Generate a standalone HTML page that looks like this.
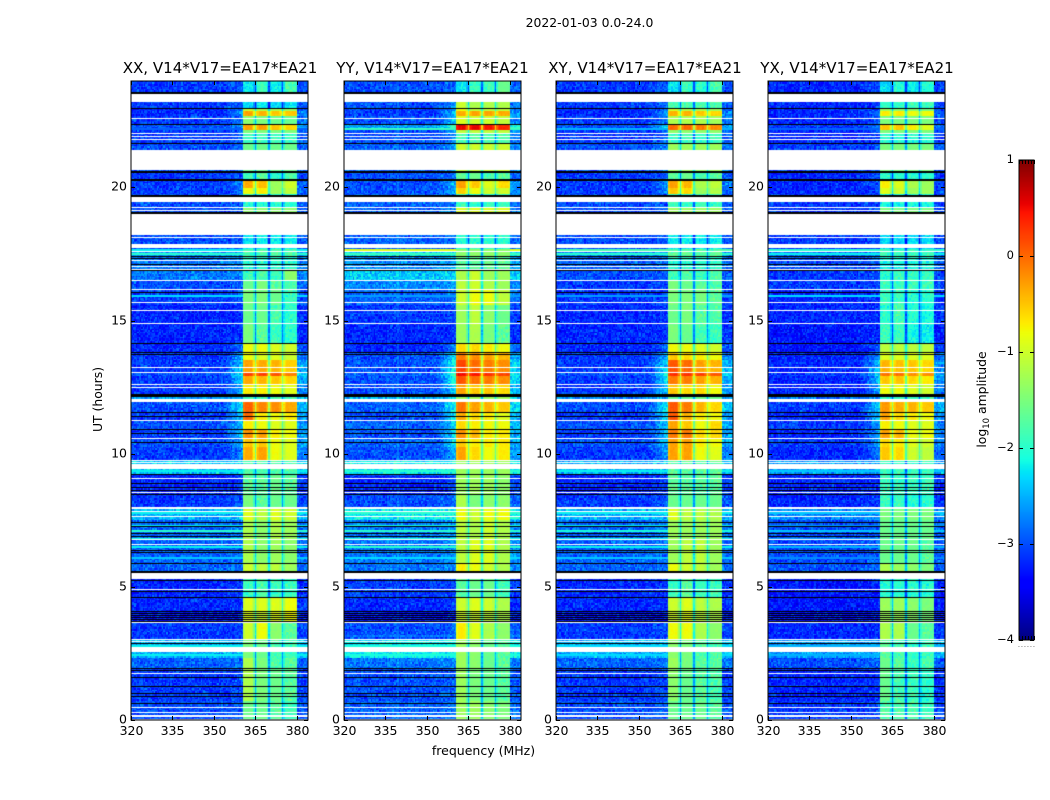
<!DOCTYPE html>
<html lang="en">
<head>
<meta charset="utf-8">
<title>2022-01-03 0.0-24.0</title>
<style>
html,body{margin:0;padding:0;background:#fff;}
#figure{position:relative;width:1050px;height:800px;overflow:hidden;background:#fff;font-family:"DejaVu Sans","Liberation Sans",sans-serif;}
canvas{position:absolute;display:block;}
#overlay{position:absolute;left:0;top:0;}
text{font-family:"DejaVu Sans","Liberation Sans",sans-serif;fill:#000;}
</style>
</head>
<body>
<div id="figure">
<canvas id="heat-xx"></canvas>
<canvas id="heat-yy"></canvas>
<canvas id="heat-xy"></canvas>
<canvas id="heat-yx"></canvas>
<canvas id="cbar"></canvas>
<svg id="overlay" width="1050" height="800" viewBox="0 0 1050 800">
<text x="589.5" y="27" text-anchor="middle" font-size="12.4">2022-01-03 0.0-24.0</text>
<text x="220" y="73" text-anchor="middle" font-size="15.05">XX, V14*V17=EA17*EA21</text>
<text x="432.5" y="73" text-anchor="middle" font-size="15.05">YY, V14*V17=EA17*EA21</text>
<text x="645" y="73" text-anchor="middle" font-size="15.05">XY, V14*V17=EA17*EA21</text>
<text x="857" y="73" text-anchor="middle" font-size="15.05">YX, V14*V17=EA17*EA21</text>
<text x="483.5" y="755" text-anchor="middle" font-size="12.5">frequency (MHz)</text>
<text transform="translate(102,399.5) rotate(-90)" text-anchor="middle" font-size="12.4">UT (hours)</text>
<text transform="translate(986,399.5) rotate(-90)" text-anchor="middle" font-size="12.4">log<tspan dy="3" font-size="8.5">10</tspan><tspan dy="-3"> amplitude</tspan></text>
</svg>
</div>
<script>
// ---- axis tick values ----
const freqTicks = [320, 335, 350, 365, 380];
const hourTicks = [0, 5, 10, 15, 20];
const colorTicks = [1, 0, -1, -2, -3, -4];
const colorbarXTicks = [0, 0.2, 0.4, 0.6, 0.8, 1];

// ---- top hour of each time segment ----
const segmentTopHours = [
24.0,23.21,22.98,22.87,22.68,22.38,22.16,22.04,21.67,20.58,
20.28,19.98,19.71,19.26,18.21,17.72,17.42,16.86,16.52,16.18,
15.58,14.83,14.16,13.82,13.52,13.07,12.92,12.62,12.24,11.94,
11.57,11.27,10.93,10.59,10.25,9.76,9.24,8.49,7.92,7.51,
6.76,5.90,5.56,4.62,4.09,3.68,3.00,2.37,1.95,0.75];

// ---- log10 amplitude of the four sub-bands per time segment ----
const bandXX = [
[-2.2,-1.9,-2.2,-1.8],[-2.3,-2.2,-2.3,-2.3],[-1.0,-1.2,-1.2,-1.3],[-0.3,-0.4,-0.5,-0.5],[-1.4,-1.5,-1.6,-1.6],
[-0.3,-0.3,-0.5,-0.6],[-1.5,-1.5,-1.5,-1.5],[-1.9,-1.9,-1.9,-1.9],[-1.6,-1.6,-1.6,-1.6],[-1.9,-1.7,-2.0,-1.8],
[-0.35,-0.45,-1.3,-1.0],[-0.8,-0.7,-1.3,-1.1],[-2.0,-2.0,-2.0,-2.0],[-1.4,-1.4,-1.4,-1.4],[-2.2,-2.2,-2.2,-2.2],
[-1.8,-1.8,-1.8,-1.8],[-2.0,-2.0,-2.0,-2.0],[-1.9,-1.8,-1.9,-1.4],[-1.6,-1.5,-1.7,-1.8],[-1.5,-1.5,-1.6,-1.9],
[-1.6,-1.6,-1.8,-2.0],[-1.5,-1.7,-1.9,-2.0],[-0.8,-0.8,-0.9,-1.0],[-0.8,-0.9,-0.9,-1.0],[-0.3,-0.35,-0.4,-0.55],
[0.2,0.2,0.1,-0.1],[-0.35,-0.4,-0.5,-0.6],[-0.7,-0.7,-0.8,-0.9],[-1.8,-1.8,-1.8,-1.8],[0.05,-0.15,-0.2,-0.35],
[0,-0.7,-0.8,-0.7],[-0.7,-0.8,-0.9,-0.9],[-0.2,-0.3,-0.7,-0.8],[-0.5,-0.5,-0.8,-0.9],[-0.35,-0.3,-0.8,-0.9],
[-1.8,-1.8,-1.8,-1.8],[-1.7,-1.7,-1.6,-1.7],[-1.5,-1.7,-1.6,-1.6],[-0.9,-1.1,-0.9,-1.0],[-1.2,-1.4,-1.2,-1.3],
[-1.2,-1.4,-1.3,-1.4],[-1.0,-1.1,-1.1,-1.3],[-1.9,-1.8,-1.9,-1.9],[-0.9,-0.9,-0.9,-0.8],[-0.9,-1.0,-0.9,-0.8],
[-1.0,-0.8,-1.4,-1.7],[-1.5,-1.6,-1.8,-1.9],[-1.2,-1.5,-1.8,-1.7],[-1.2,-1.5,-1.6,-1.7],[-1.6,-1.6,-1.7,-1.9]];
const bandYY = [
[-2.2,-1.9,-1.9,-1.6],[-1.0,-1.2,-1.2,-1.2],[-0.8,-1.1,-1.1,-1.1],[-0.35,-0.3,-0.3,-0.35],[-0.9,-1.0,-1.0,-1.1],
[0.55,0.55,0.45,0.35],[-1.1,-1.1,-1.1,-1.1],[-1.8,-1.8,-1.8,-1.8],[-1.0,-1.0,-1.0,-1.0],[-1.7,-1.6,-1.8,-1.7],
[-0.3,-0.5,-0.9,-0.6],[-0.55,-0.8,-1.0,-1.0],[-1.9,-1.9,-1.9,-1.9],[-0.9,-0.9,-0.9,-0.9],[-2.0,-2.0,-2.0,-2.0],
[-1.4,-1.4,-1.4,-1.4],[-1.7,-1.7,-1.7,-1.7],[-1.2,-1.0,-1.3,-1.3],[-1.1,-1.0,-1.2,-1.3],[-1.0,-0.8,-0.8,-1.1],
[-1.3,-1.1,-1.4,-1.6],[-1.3,-1.2,-1.5,-1.7],[-0.6,-0.6,-0.7,-0.8],[-0.1,-0.2,-0.3,-0.4],[0.2,0.0,-0.1,-0.2],
[0.5,0.45,0.3,0.2],[0.1,-0.05,-0.1,-0.2],[-0.3,-0.5,-0.5,-0.6],[-1.3,-1.3,-1.3,-1.3],[-0.05,-0.3,-0.4,-0.5],
[-0.35,-0.6,-0.7,-0.9],[-0.6,-0.7,-0.8,-0.8],[-0.2,-0.4,-0.7,-0.7],[-0.5,-0.7,-0.7,-0.7],[-0.3,-0.6,-0.8,-0.7],
[-1.3,-1.3,-1.3,-1.3],[-1.3,-1.3,-1.3,-1.4],[-1.2,-1.5,-1.4,-1.4],[-0.8,-1.0,-0.8,-0.8],[-1.1,-1.2,-1.0,-1.2],
[-1.1,-0.9,-0.9,-1.2],[-0.7,-0.8,-1.0,-1.2],[-1.7,-1.6,-1.6,-1.9],[-1.0,-0.9,-1.0,-1.2],[-1.0,-1.0,-1.1,-1.2],
[-0.7,-0.9,-1.2,-1.4],[-1.3,-1.4,-1.6,-1.7],[-1.3,-1.4,-1.6,-1.7],[-1.3,-1.5,-1.6,-1.7],[-1.3,-1.3,-1.4,-1.5]];
const bandXY = [
[-2.2,-1.9,-2.0,-1.8],[-1.8,-1.8,-1.8,-1.8],[-1.0,-1.2,-1.2,-1.3],[-0.4,-0.4,-0.5,-0.6],[-1.2,-1.2,-1.2,-1.3],
[0.0,0.0,-0.1,-0.2],[-1.4,-1.4,-1.4,-1.4],[-1.9,-1.9,-1.9,-1.9],[-1.3,-1.3,-1.3,-1.3],[-1.7,-1.6,-1.8,-1.7],
[-0.3,-0.4,-1.2,-1.1],[-0.5,-0.6,-1.3,-1.2],[-1.9,-1.9,-1.9,-1.9],[-1.3,-1.3,-1.3,-1.3],[-2.2,-2.2,-2.2,-2.2],
[-1.7,-1.7,-1.7,-1.7],[-2.0,-2.0,-2.0,-2.0],[-1.9,-1.8,-1.9,-1.8],[-1.5,-1.6,-1.7,-1.8],[-1.5,-1.5,-1.5,-1.7],
[-1.6,-1.5,-1.7,-1.8],[-1.5,-1.6,-1.8,-1.9],[-0.8,-0.8,-0.9,-1.0],[-0.5,-0.6,-0.7,-0.8],[0.1,0.0,-0.3,-0.4],
[0.3,0.3,0.2,0.1],[-0.1,-0.1,-0.3,-0.4],[-0.5,-0.6,-0.6,-0.8],[-1.6,-1.6,-1.6,-1.6],[0.1,-0.1,-0.4,-0.6],
[0.1,-0.4,-0.7,-0.8],[-0.3,-0.5,-0.8,-0.6],[-0.1,-0.1,-0.6,-0.6],[-0.3,-0.3,-0.7,-0.8],[-0.3,-0.3,-0.8,-0.9],
[-1.7,-1.7,-1.7,-1.7],[-1.7,-1.7,-1.7,-1.7],[-1.6,-1.6,-1.6,-1.6],[-0.9,-1.1,-1.1,-1.2],[-1.3,-1.3,-1.3,-1.3],
[-1.3,-1.1,-1.1,-1.3],[-0.8,-1.0,-1.1,-1.3],[-1.9,-1.7,-1.9,-1.9],[-1.0,-0.9,-1.1,-1.2],[-1.0,-0.9,-1.1,-1.2],
[-0.8,-0.8,-1.2,-1.4],[-1.4,-1.5,-1.7,-1.8],[-1.3,-1.5,-1.7,-1.7],[-1.4,-1.6,-1.7,-1.8],[-1.6,-1.6,-1.6,-1.7]];
const bandYX = [
[-2.3,-2.0,-2.2,-2.0],[-1.9,-1.9,-1.9,-1.9],[-1.3,-1.4,-1.4,-1.5],[-0.7,-0.7,-0.8,-0.8],[-1.5,-1.5,-1.5,-1.5],
[-0.5,-0.5,-0.7,-0.9],[-1.5,-1.5,-1.5,-1.5],[-2.0,-2.0,-2.0,-2.0],[-1.5,-1.5,-1.5,-1.5],[-2.0,-2.0,-2.0,-2.0],
[-0.7,-0.9,-1.2,-1.3],[-0.9,-1.0,-1.3,-1.3],[-2.1,-2.1,-2.1,-2.1],[-1.5,-1.5,-1.5,-1.5],[-2.3,-2.3,-2.3,-2.3],
[-1.9,-1.9,-1.9,-1.9],[-2.1,-2.1,-2.1,-2.1],[-2.0,-1.9,-1.9,-1.9],[-1.9,-1.9,-1.9,-1.9],[-1.9,-1.9,-2.0,-2.0],
[-2.0,-1.8,-2.0,-2.1],[-1.9,-1.9,-2.1,-2.2],[-1.1,-1.1,-1.1,-1.1],[-0.9,-0.9,-0.9,-0.9],[-0.4,-0.45,-0.5,-0.6],
[-0.05,-0.05,-0.2,-0.2],[-0.5,-0.5,-0.6,-0.7],[-0.8,-0.8,-0.9,-1.0],[-1.9,-1.9,-1.9,-1.9],[-0.25,-0.35,-0.4,-0.5],
[-0.3,-0.6,-0.7,-0.8],[-0.7,-0.8,-0.9,-0.9],[-0.3,-0.4,-0.8,-0.8],[-0.6,-0.7,-0.9,-1.0],[-0.5,-0.6,-1.0,-1.1],
[-1.9,-1.9,-1.9,-1.9],[-1.9,-1.9,-1.9,-1.9],[-1.9,-1.9,-2.0,-2.0],[-1.5,-1.5,-1.5,-1.5],[-1.6,-1.6,-1.6,-1.6],
[-1.6,-1.6,-1.6,-1.7],[-1.2,-1.3,-1.4,-1.5],[-2.0,-2.0,-2.0,-2.0],[-1.3,-1.3,-1.4,-1.5],[-1.3,-1.3,-1.4,-1.5],
[-1.2,-1.2,-1.6,-1.7],[-1.7,-1.8,-1.9,-1.9],[-1.6,-1.7,-1.9,-1.8],[-1.6,-1.8,-1.9,-2.0],[-1.8,-1.8,-1.8,-1.9]];

// ---- off-band background level per time segment ----
const backgroundXX = [
-3.1,-3.1,-3.2,-3.2,-3.1,-3.0,-3.1,-3.1,-3.0,-3.1,
-3.1,-3.1,-3.0,-3.0,-3.0,-2.6,-2.8,-2.8,-3.0,-3.1,
-3.2,-3.2,-3.2,-3.1,-3.1,-3.0,-3.1,-3.1,-2.6,-3.0,
-3.1,-3.0,-3.1,-3.0,-3.1,-2.4,-3.2,-3.1,-2.5,-2.9,
-2.9,-2.9,-3.2,-3.2,-3.3,-3.1,-2.5,-2.9,-3.1,-3.0];
const backgroundYY = [
-3.0,-3.0,-3.1,-3.1,-3.0,-2.6,-3.0,-3.0,-2.9,-3.0,
-3.0,-3.0,-2.9,-2.9,-2.9,-2.3,-2.7,-2.4,-2.7,-2.9,
-3.1,-3.2,-3.2,-3.0,-3.0,-2.9,-3.0,-3.0,-2.5,-2.9,
-3.0,-2.9,-3.0,-2.9,-3.0,-2.2,-3.2,-3.0,-2.2,-2.8,
-2.8,-2.8,-3.1,-3.2,-3.3,-3.0,-2.2,-2.8,-3.0,-2.9];
const backgroundXY = [
-3.1,-3.1,-3.2,-3.2,-3.1,-3.0,-3.1,-3.1,-3.0,-3.1,
-3.1,-3.1,-3.0,-3.0,-3.0,-2.7,-2.9,-3.0,-3.1,-3.1,
-3.2,-3.2,-3.2,-3.1,-3.1,-3.0,-3.1,-3.1,-2.7,-3.0,
-3.1,-3.0,-3.1,-3.0,-3.1,-2.5,-3.2,-3.1,-2.5,-2.9,
-2.9,-2.9,-3.2,-3.2,-3.3,-3.1,-2.5,-2.9,-3.1,-3.0];
const backgroundYX = [
-3.2,-3.2,-3.2,-3.2,-3.2,-3.1,-3.2,-3.2,-3.1,-3.2,
-3.2,-3.2,-3.1,-3.1,-3.1,-2.8,-3.0,-3.1,-3.1,-3.2,
-3.2,-3.3,-3.3,-3.2,-3.2,-3.1,-3.2,-3.2,-2.8,-3.1,
-3.2,-3.1,-3.2,-3.1,-3.2,-2.6,-3.2,-3.2,-2.7,-3.0,
-3.0,-3.0,-3.3,-3.3,-3.3,-3.2,-2.6,-3.0,-3.2,-3.1];

// ---- level of the shoulder just below the band per time segment ----
const shoulderXX = [
-2.9,-2.9,-2.8,-2.5,-2.7,-2.5,-2.8,-2.8,-2.8,-2.9,
-2.7,-2.7,-2.9,-2.9,-2.9,-2.5,-2.7,-2.7,-2.9,-2.9,
-3.1,-3.1,-2.8,-2.5,-2.2,-2.0,-2.2,-2.4,-2.4,-2.1,
-2.3,-2.4,-2.3,-2.4,-2.6,-2.3,-3.0,-2.9,-2.4,-2.7,
-2.8,-2.8,-3.1,-3.1,-3.2,-3.0,-2.4,-2.8,-3.0,-2.9];
const shoulderYY = [
-2.8,-2.6,-2.5,-2.2,-2.4,-1.7,-2.5,-2.6,-2.5,-2.8,
-2.4,-2.4,-2.8,-2.7,-2.8,-2.2,-2.5,-2.3,-2.6,-2.8,
-3.0,-3.1,-2.6,-2.2,-1.9,-1.7,-1.9,-2.2,-2.3,-1.9,
-2.1,-2.2,-2.1,-2.2,-2.4,-2.1,-2.9,-2.8,-2.1,-2.6,
-2.6,-2.6,-3.0,-3.1,-3.2,-2.8,-2.1,-2.7,-2.9,-2.8];
const shoulderXY = [
-2.9,-2.8,-2.7,-2.4,-2.6,-2.2,-2.7,-2.8,-2.7,-2.9,
-2.6,-2.6,-2.9,-2.9,-2.9,-2.5,-2.8,-2.9,-3.0,-3.0,
-3.1,-3.1,-2.8,-2.4,-2.1,-1.9,-2.1,-2.3,-2.5,-2.0,
-2.2,-2.3,-2.2,-2.3,-2.5,-2.4,-3.0,-2.9,-2.4,-2.7,
-2.8,-2.8,-3.1,-3.1,-3.2,-3.0,-2.4,-2.8,-3.0,-2.9];
const shoulderYX = [
-3.0,-3.0,-2.9,-2.7,-2.9,-2.7,-2.9,-3.0,-2.9,-3.0,
-2.9,-2.9,-3.0,-3.0,-3.0,-2.7,-2.9,-3.0,-3.0,-3.1,
-3.1,-3.2,-2.9,-2.6,-2.3,-2.1,-2.3,-2.5,-2.6,-2.2,
-2.4,-2.5,-2.4,-2.5,-2.7,-2.5,-3.1,-3.1,-2.6,-2.9,
-2.9,-2.9,-3.2,-3.2,-3.2,-3.1,-2.5,-2.9,-3.1,-3.0];

// ---- brief bright time strips outside the band ----
const stripHours = [22.23,17.69,17.54,15.96,9.39,7.81,7.32,7.13,6.83,6.53,6.12,2.82,2.48];
const stripXX = [-2.9,-2.2,-2.0,-2.3,-2.2,-2.2,-2.2,-2.0,-2.1,-2.2,-2.4,-2.2,-2.2];
const stripYY = [-1.9,-0.9,-1.9,-2.6,-2.0,-2.0,-2.1,-2.0,-2.1,-2.0,-2.3,-2.1,-2.1];
const stripXY = [-2.5,-1.8,-2.0,-2.6,-2.2,-2.2,-2.2,-2.1,-2.2,-2.2,-2.4,-2.3,-2.3];
const stripYX = [-2.9,-2.0,-2.2,-2.3,-2.4,-2.4,-2.6,-2.4,-2.6,-2.5,-2.7,-2.5,-2.5];

// ---- flagged (white) and very low amplitude (black) times, in UT hours ----
const flaggedLineHours = [22.61,22.04,21.93,21.80,19.25,19.15,18.14,17.61,17.27,17.05,16.94,16.52,16.18,15.70,15.40,14.91,13.26,13.07,12.62,12.50,11.27,10.59,9.78,9.69,9.09,8.56,7.85,7.66,6.80,6.61,4.92,3.68,3.04,2.97,1.76,0.49,0.30,0.04];
const flaggedSpanStart = [23.49,21.39,19.64,19.00,17.87,12.05,9.61,8.00,5.52,2.74,0.19];
const flaggedSpanEnd = [23.21,20.65,19.47,18.21,17.72,11.94,9.43,7.92,5.29,2.55,0.11];
const lowLineHours = [23.58,23.54,22.98,22.38,21.67,20.62,20.58,20.32,20.28,19.70,19.66,19.06,19.02,17.42,17.35,17.12,16.90,16.07,14.16,13.82,13.74,12.26,12.22,12.18,11.57,11.42,10.93,10.78,10.44,9.24,8.90,8.75,8.64,8.49,7.44,7.29,7.02,6.91,6.38,6.31,5.90,5.58,5.54,5.26,4.84,4.62,4.09,4.02,3.94,3.87,3.79,3.72,2.89,1.95,1.88,1.61,1.28,1.01,0.90,0.64];

// ---- hand-entered cell speckle, the visual grain of the measurement ----
const speckle = [
0.4,-0.7,0.1,0.9,-0.3,-0.9,0.6,-0.1,0.2,-0.6,0.8,-0.4,0.3,-1.0,0.5,0.0,-0.5,0.7,-0.2,1.0,
-0.8,0.2,-0.3,0.6,-0.6,0.1,0.9,-0.9,0.3,-0.1,0.5,-0.7,0.8,-0.4,0.0,-0.2,0.7,-0.8,0.4,0.2,
-0.5,1.0,-0.6,0.1,-1.0,0.6,0.3,-0.3,0.9,-0.7,-0.1,0.5,-0.9,0.2,0.8,-0.4,0.0,-0.6,0.4,0.7,
-0.2,-0.8,1.0,-0.5,0.3,0.1,-0.9,0.6,-0.3,0.5,-0.7,0.9,-0.1,0.2,-1.0,0.8,-0.4,0.4,-0.6,0.0,
0.7,-0.2,-0.8,0.3,0.6,-0.5,0.1,-0.9,1.0,-0.3,0.5,-0.7,0.2,0.8,-0.1,-0.6,0.4,-0.4,0.9,-1.0,0.3];

// ---- axis functions ----
const PX_PER_MHZ = 2.76, PX_PER_HOUR = 26.63, Y_ZERO = 720, PANEL_TOP = 81, PANEL_H = 639, PANEL_W = 177;
const yScale = h => Y_ZERO - h * PX_PER_HOUR;
const xScale = (left, f) => left + (f - 320) * PX_PER_MHZ;
const colorScale = v => 160 + (1 - v) * 96;

function jet(n){
  n = Math.max(0, Math.min(1, n));
  const lerp = (pts) => {
    for (let i = 1; i < pts.length; i++) {
      if (n <= pts[i][0]) {
        const a = pts[i-1], b = pts[i];
        return a[1] + (b[1]-a[1]) * (n-a[0]) / (b[0]-a[0]);
      }
    }
    return pts[pts.length-1][1];
  };
  const r = lerp([[0,0],[0.35,0],[0.66,1],[0.89,1],[1,0.5]]);
  const g = lerp([[0,0],[0.125,0],[0.375,1],[0.64,1],[0.91,0],[1,0]]);
  const b = lerp([[0,0.5],[0.11,1],[0.34,1],[0.65,0],[1,0]]);
  return 'rgb(' + Math.round(r*255) + ',' + Math.round(g*255) + ',' + Math.round(b*255) + ')';
}
const levelColor = v => jet((v + 4) / 5);

function segmentAt(h){
  let s = 0;
  for (let i = 0; i < segmentTopHours.length; i++) { if (h <= segmentTopHours[i]) s = i; }
  return s;
}

function grainAt(row, c, pi){
  const a = (row*131 + c*197 + row*c*7 + pi*41) % speckle.length;
  const b = (row*row*3 + c*c*5 + row*c*11 + pi*17 + 53) % speckle.length;
  return (speckle[a] + speckle[b]) * 0.72;
}

function cellLevel(band, bg, shoulder, s, f, row, c, pi){
  const g = grainAt(row, c, pi);
  const b = band[s];
  if (f >= 361 && f <= 380) {
    const mean = (b[0]+b[1]+b[2]+b[3]) / 4;
    const gapDepth = mean - 1.0;
    const dg = Math.min(Math.abs(f-365), Math.abs(f-370), Math.abs(f-375));
    if (dg < 0.25) return gapDepth + g * 0.15;
    const sub = f < 365 ? 0 : f < 370 ? 1 : f < 375 ? 2 : 3;
    const v = b[sub];
    if (dg < 0.75) return (v * 2 + gapDepth) / 3 + g * 0.1;
    const edge = (dg < 1.25 || f < 361.25 || f > 379.75) && v > -1.2 ? -0.12 : 0;
    return v + edge + g * (v < -1.6 ? 0.2 : 0.05);
  }
  let base = bg[s];
  if (f >= 353 && f < 361) {
    const t = (f - 353) / 8;
    base = bg[s] + (shoulder[s] - bg[s]) * Math.pow(t, 1.3);
  } else if (f > 380) {
    base = bg[s] + (shoulder[s] - bg[s]) * 0.6;
  }
  return base + g * 0.3;
}

function drawPanel(id, left, band, bg, shoulder, strip, pi){
  const cv = document.getElementById(id);
  cv.width = PANEL_W; cv.height = PANEL_H;
  cv.style.left = left + 'px';
  cv.style.top = PANEL_TOP + 'px';
  const ctx = cv.getContext('2d');
  ctx.fillStyle = '#fff';
  ctx.fillRect(0, 0, PANEL_W, PANEL_H);
  const rowHours = 0.06;
  const rows = Math.round(24 / rowHours);
  for (let r = 0; r < rows; r++) {
    const hTop = 24 - r * rowHours;
    const s = segmentAt(hTop - rowHours / 2);
    const y0 = Math.round(yScale(hTop)) - PANEL_TOP;
    const y1 = Math.round(yScale(hTop - rowHours)) - PANEL_TOP;
    if (y1 <= y0) continue;
    for (let c = 0; c <= 128; c++) {
      const f = 320 + c * 0.5;
      const x0 = Math.max(0, Math.round(xScale(left, f - 0.25) - left));
      const x1 = Math.min(PANEL_W, Math.round(xScale(left, f + 0.25) - left));
      if (x1 <= x0) continue;
      ctx.fillStyle = levelColor(cellLevel(band, bg, shoulder, s, f, r, c, pi));
      ctx.fillRect(x0, y0, x1 - x0, y1 - y0);
    }
  }
  const bandX0 = Math.round(xScale(left, 360.75) - left);
  const bandX1 = Math.round(xScale(left, 380.25) - left);
  stripHours.forEach((h, i) => {
    const y = Math.round(yScale(h)) - PANEL_TOP;
    ctx.fillStyle = levelColor(strip[i]);
    ctx.fillRect(0, y, bandX0, 2);
    ctx.fillRect(bandX1, y, PANEL_W - bandX1, 2);
  });
  ctx.fillStyle = '#fff';
  flaggedLineHours.forEach(h => {
    ctx.fillRect(0, Math.round(yScale(h)) - PANEL_TOP, PANEL_W, 1);
  });
  flaggedSpanStart.forEach((h, i) => {
    const y0 = Math.round(yScale(h)) - PANEL_TOP;
    const y1 = Math.round(yScale(flaggedSpanEnd[i])) - PANEL_TOP;
    ctx.fillRect(0, y0, PANEL_W, y1 - y0);
  });
  ctx.fillStyle = '#000';
  lowLineHours.forEach(h => {
    ctx.fillRect(0, Math.round(yScale(h)) - PANEL_TOP, PANEL_W, 1);
  });
}

drawPanel('heat-xx', 131, bandXX, backgroundXX, shoulderXX, stripXX, 0);
drawPanel('heat-yy', 344, bandYY, backgroundYY, shoulderYY, stripYY, 1);
drawPanel('heat-xy', 556, bandXY, backgroundXY, shoulderXY, stripXY, 2);
drawPanel('heat-yx', 768, bandYX, backgroundYX, shoulderYX, stripYX, 3);

// ---- colorbar ----
(function(){
  const cv = document.getElementById('cbar');
  cv.width = 15; cv.height = 480;
  cv.style.left = '1019px';
  cv.style.top = '160px';
  const ctx = cv.getContext('2d');
  for (let y = 0; y < 480; y++) {
    ctx.fillStyle = levelColor(1 - (y + 0.5) / 96);
    ctx.fillRect(0, y, 15, 1);
  }
})();

// ---- axes, ticks and tick labels ----
const svg = document.getElementById('overlay');
const NS = 'http://www.w3.org/2000/svg';

function tickLine(x1, y1, x2, y2){
  const l = document.createElementNS(NS, 'line');
  
  
  l.setAttribute('x1', x1);
  l.setAttribute('y1', y1);
  l.setAttribute('x2', x2);
  l.setAttribute('y2', y2);
  l.setAttribute('stroke', '#000');
  l.setAttribute('stroke-width', '1');
  svg.appendChild(l);
}
function tickText(x, y, anchor, str, size){
  const t = document.createElementNS(NS, 'text');
  
  
  t.setAttribute('x', x);
  t.setAttribute('y', y);
  t.setAttribute('text-anchor', anchor);
  t.setAttribute('font-size', size);
  t.textContent = str;
  svg.appendChild(t);
}
function frame(x, y, w, h, name){
  const r = document.createElementNS(NS, 'rect');
  
  
  r.setAttribute('x', x);
  r.setAttribute('y', y);
  r.setAttribute('width', w);
  r.setAttribute('height', h);
  r.setAttribute('fill', 'none');
  r.setAttribute('stroke', '#000');
  r.setAttribute('stroke-width', '1');
  svg.appendChild(r);
}

[131, 344, 556, 768].forEach(left => {
  frame(left, PANEL_TOP, PANEL_W, PANEL_H, 'panel-frame');
  freqTicks.forEach(f => {
    const x = Math.round(xScale(left, f)) + 0.5;
    tickLine(x, Y_ZERO, x, Y_ZERO - 4);
    tickLine(x, PANEL_TOP, x, PANEL_TOP + 4);
    tickText(x, 735, 'middle', String(f), 12.5);
  });
  hourTicks.forEach(h => {
    const y = Math.round(yScale(h)) + 0.5;
    tickLine(left, y, left + 4, y);
    tickLine(left + PANEL_W, y, left + PANEL_W - 4, y);
    tickText(left - 4, y + 3, 'end', String(h), 12.5);
  });
});

frame(1019, 160, 15, 480, 'colorbar-frame');
colorTicks.forEach(v => {
  const y = Math.round(colorScale(v)) + 0.5;
  tickLine(1019, y, 1023, y);
  tickLine(1034, y, 1030, y);
  tickText(1014, y + 2.5, 'end', v < 0 ? '\u2212' + Math.abs(v) : String(v), 11.5);
});
colorbarXTicks.forEach(f => {
  const x = Math.round(1019 + f * 15) + 0.5;
  tickLine(x, 160, x, 164);
  tickLine(x, 640, x, 636);
  tickText(x - 0.5, 647, 'middle', '.', 6);
});
</script>
</body>
</html>
